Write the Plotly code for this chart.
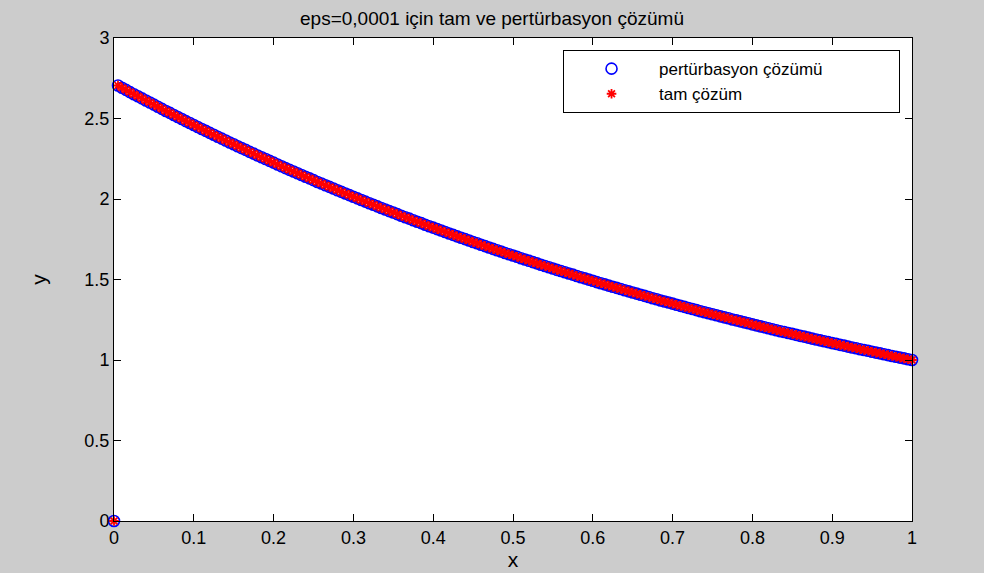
import plotly.graph_objects as go

# x grid (0 to 1 step 0.005)
x_vals = [round(i * 0.005, 3) for i in range(201)]

# perturbation solution values
pert_y = [0.000, 2.705, 2.691, 2.678, 2.664, 2.651, 2.638, 2.625, 2.612, 2.599,
          2.586, 2.573, 2.560, 2.547, 2.535, 2.522, 2.509, 2.497, 2.484, 2.472,
          2.460, 2.447, 2.435, 2.423, 2.411, 2.399, 2.387, 2.375, 2.363, 2.351,
          2.340, 2.328, 2.316, 2.305, 2.293, 2.282, 2.270, 2.259, 2.248, 2.237,
          2.226, 2.214, 2.203, 2.192, 2.181, 2.171, 2.160, 2.149, 2.138, 2.128,
          2.117, 2.106, 2.096, 2.085, 2.075, 2.065, 2.054, 2.044, 2.034, 2.024,
          2.014, 2.004, 1.994, 1.984, 1.974, 1.964, 1.954, 1.944, 1.935, 1.925,
          1.916, 1.906, 1.896, 1.887, 1.878, 1.868, 1.859, 1.850, 1.840, 1.831,
          1.822, 1.813, 1.804, 1.795, 1.786, 1.777, 1.768, 1.759, 1.751, 1.742,
          1.733, 1.725, 1.716, 1.707, 1.699, 1.690, 1.682, 1.674, 1.665, 1.657,
          1.649, 1.641, 1.632, 1.624, 1.616, 1.608, 1.600, 1.592, 1.584, 1.576,
          1.568, 1.560, 1.553, 1.545, 1.537, 1.530, 1.522, 1.514, 1.507, 1.499,
          1.492, 1.484, 1.477, 1.470, 1.462, 1.455, 1.448, 1.441, 1.433, 1.426,
          1.419, 1.412, 1.405, 1.398, 1.391, 1.384, 1.377, 1.370, 1.363, 1.357,
          1.350, 1.343, 1.336, 1.330, 1.323, 1.317, 1.310, 1.303, 1.297, 1.290,
          1.284, 1.278, 1.271, 1.265, 1.259, 1.252, 1.246, 1.240, 1.234, 1.228,
          1.221, 1.215, 1.209, 1.203, 1.197, 1.191, 1.185, 1.179, 1.174, 1.168,
          1.162, 1.156, 1.150, 1.145, 1.139, 1.133, 1.127, 1.122, 1.116, 1.111,
          1.105, 1.100, 1.094, 1.089, 1.083, 1.078, 1.073, 1.067, 1.062, 1.057,
          1.051, 1.046, 1.041, 1.036, 1.030, 1.025, 1.020, 1.015, 1.010, 1.005,
          1.000]

# exact solution values (visually identical to the perturbation one)
exact_y = [0.000, 2.705, 2.691, 2.678, 2.664, 2.651, 2.638, 2.625, 2.612, 2.599,
           2.586, 2.573, 2.560, 2.547, 2.535, 2.522, 2.509, 2.497, 2.484, 2.472,
           2.460, 2.447, 2.435, 2.423, 2.411, 2.399, 2.387, 2.375, 2.363, 2.351,
           2.340, 2.328, 2.316, 2.305, 2.293, 2.282, 2.270, 2.259, 2.248, 2.237,
           2.226, 2.214, 2.203, 2.192, 2.181, 2.171, 2.160, 2.149, 2.138, 2.128,
           2.117, 2.106, 2.096, 2.085, 2.075, 2.065, 2.054, 2.044, 2.034, 2.024,
           2.014, 2.004, 1.994, 1.984, 1.974, 1.964, 1.954, 1.944, 1.935, 1.925,
           1.916, 1.906, 1.896, 1.887, 1.878, 1.868, 1.859, 1.850, 1.840, 1.831,
           1.822, 1.813, 1.804, 1.795, 1.786, 1.777, 1.768, 1.759, 1.751, 1.742,
           1.733, 1.725, 1.716, 1.707, 1.699, 1.690, 1.682, 1.674, 1.665, 1.657,
           1.649, 1.641, 1.632, 1.624, 1.616, 1.608, 1.600, 1.592, 1.584, 1.576,
           1.568, 1.560, 1.553, 1.545, 1.537, 1.530, 1.522, 1.514, 1.507, 1.499,
           1.492, 1.484, 1.477, 1.470, 1.462, 1.455, 1.448, 1.441, 1.433, 1.426,
           1.419, 1.412, 1.405, 1.398, 1.391, 1.384, 1.377, 1.370, 1.363, 1.357,
           1.350, 1.343, 1.336, 1.330, 1.323, 1.317, 1.310, 1.303, 1.297, 1.290,
           1.284, 1.278, 1.271, 1.265, 1.259, 1.252, 1.246, 1.240, 1.234, 1.228,
           1.221, 1.215, 1.209, 1.203, 1.197, 1.191, 1.185, 1.179, 1.174, 1.168,
           1.162, 1.156, 1.150, 1.145, 1.139, 1.133, 1.127, 1.122, 1.116, 1.111,
           1.105, 1.100, 1.094, 1.089, 1.083, 1.078, 1.073, 1.067, 1.062, 1.057,
           1.051, 1.046, 1.041, 1.036, 1.030, 1.025, 1.020, 1.015, 1.010, 1.005,
           1.000]

series_names = ["pertürbasyon çözümü", "tam çözüm"]
title_text = "eps=0,0001 için tam ve pertürbasyon çözümü"

x_ticks = [0, 0.1, 0.2, 0.3, 0.4, 0.5, 0.6, 0.7, 0.8, 0.9, 1]
x_tick_labels = ["0", "0.1", "0.2", "0.3", "0.4", "0.5", "0.6", "0.7", "0.8", "0.9", "1"]
y_ticks = [0, 0.5, 1, 1.5, 2, 2.5, 3]
y_tick_labels = ["0", "0.5", "1", "1.5", "2", "2.5", "3"]

FONT = "Liberation Sans, Arial, sans-serif"
PAD = "\u00a0" * 15  # widen legend box like the reference

fig = go.Figure()
fig.add_trace(go.Scatter(
    x=x_vals, y=pert_y, mode="markers", name=series_names[0] + PAD,
    marker=dict(symbol="circle-open", size=11, color="blue", line=dict(width=1.6, color="blue")),
    cliponaxis=False,
))
fig.add_trace(go.Scatter(
    x=x_vals, y=exact_y, mode="markers", name=series_names[1],
    marker=dict(symbol="asterisk-open", size=8, color="red", line=dict(width=1.8, color="red")),
    cliponaxis=False,
))

axis_common = dict(
    showline=True, linecolor="black", linewidth=1, mirror="ticks",
    ticks="inside", ticklen=7, tickcolor="black", showgrid=False, zeroline=False,
    automargin=False,
    tickfont=dict(family=FONT, size=18, color="black"),
)

fig.update_layout(
    width=984, height=573,
    paper_bgcolor="#cccccc", plot_bgcolor="white",
    margin=dict(l=114, r=72, t=38, b=52),
    font=dict(family=FONT, color="black"),
    title=dict(text=title_text, x=0.5, xref="container",
               xanchor="center", y=1 - 18 / 573, yanchor="middle", yref="container",
               font=dict(family=FONT, size=19, color="black")),
    xaxis=dict(range=[0, 1], tickvals=x_ticks, ticktext=x_tick_labels,
               title=dict(text="x", font=dict(family=FONT, size=21), standoff=2), **axis_common),
    yaxis=dict(range=[0, 3], tickvals=y_ticks, ticktext=y_tick_labels,
               title=dict(text="y", font=dict(family=FONT, size=21), standoff=32), **axis_common),
    legend=dict(x=0.985, y=0.975, xanchor="right", yanchor="top",
                bgcolor="white", bordercolor="black", borderwidth=1,
                font=dict(family=FONT, size=17, color="black"),
                itemwidth=85, tracegroupgap=0),
    showlegend=True,
)

fig.write_html("out.html")
